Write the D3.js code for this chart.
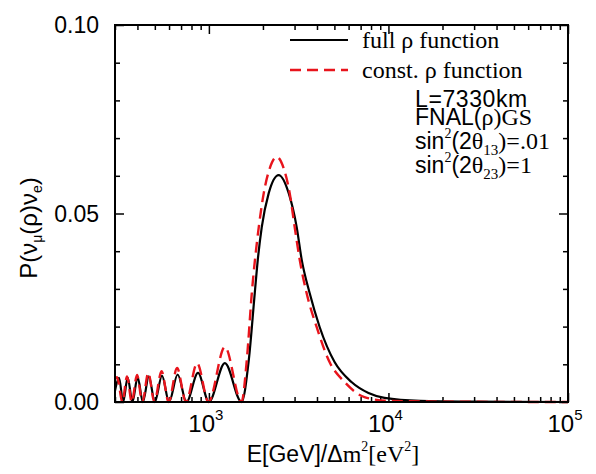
<!DOCTYPE html>
<html><head><meta charset="utf-8">
<script src="https://cdn.jsdelivr.net/npm/d3@7"></script>
<style>body{margin:0;background:#fff}svg{display:block}</style>
</head><body>
<svg id="c" width="596" height="474"></svg>
<script>
// ---- data ----
const fullE = [300,316,333,353,375,401,429,463,500,548,600,670,750,870,1000,1227,1520,1668,1801,1872,1970,2154,2448,2783,3083,3289,3640,4138,5012,6226,7743,9506,15000,30000,100000];
const fullP = [0.003,0.0064,0,0.0065,0,0.0066,0,0.0068,0,0.0070,0,0.0073,0,0.0077,0,0.0103,0,0.0111,0.0289,0.0377,0.0464,0.0554,0.0602,0.0554,0.0464,0.0377,0.0289,0.0199,0.0106,0.0053,0.0024,0.0011,0.0003,0.0001,0];
const constE = [300,308,330,350,372,398,426,460,497,545,597,665,745,860,995,1227,1520,1626,1734,1896,2021,2183,2387,2610,2818,3005,3206,3501,3981,4699,5696,7356,10000,20000,100000];
const constP = [0.006,0.0066,0,0.0068,0,0.0072,0,0.0077,0,0.0082,0,0.0090,0,0.0103,0,0.0146,0,0.0111,0.0289,0.0464,0.0554,0.062,0.065,0.062,0.0554,0.0464,0.0377,0.0289,0.0199,0.0106,0.0053,0.0013,0.0003,0.0001,0];
const xMajorTicks = [1e3,1e4,1e5];
const xMajorExp = ["3","4","5"];
const yMajorTicks = [0,0.05,0.10];
const yTickLabels = ["0.00","0.05","0.10"];
const legendLabels = ["full \u03c1 function","const. \u03c1 function"];

// ---- layout ----
const L=115, R=568, T=25, B=402;
const svg = d3.select("#c");
const x = d3.scaleLog().domain([300,1e5]).range([L,R]);
const y = d3.scaleLinear().domain([0,0.10]).range([B,T]);
const sans = "'Liberation Sans', Arial, sans-serif";
const serif = "'Liberation Serif', 'Times New Roman', serif";

const xMinor = [];
[100,1000,10000].forEach(d=>{for(let k=2;k<=9;k++){const v=k*d; if(v>=300&&v<=1e5) xMinor.push(v);}});
const yMinor = d3.range(0,0.1001,0.01).filter(v=>!yMajorTicks.some(m=>Math.abs(m-v)<1e-9));

function axisStyle(g){g.select(".domain").remove();g.selectAll("text").remove();g.selectAll("line").attr("stroke","#000").attr("stroke-width",1.5);}
svg.append("g").attr("transform",`translate(0,${B})`).call(d3.axisBottom(x).tickValues(xMinor).tickSize(-5)).call(axisStyle);
svg.append("g").attr("transform",`translate(0,${B})`).call(d3.axisBottom(x).tickValues(xMajorTicks).tickSize(-9)).call(axisStyle);
svg.append("g").attr("transform",`translate(0,${T})`).call(d3.axisTop(x).tickValues(xMinor).tickSize(-5)).call(axisStyle);
svg.append("g").attr("transform",`translate(0,${T})`).call(d3.axisTop(x).tickValues(xMajorTicks).tickSize(-9)).call(axisStyle);
svg.append("g").attr("transform",`translate(${L},0)`).call(d3.axisLeft(y).tickValues(yMinor).tickSize(-5)).call(axisStyle);
svg.append("g").attr("transform",`translate(${L},0)`).call(d3.axisLeft(y).tickValues(yMajorTicks).tickSize(-9)).call(axisStyle);
svg.append("g").attr("transform",`translate(${R},0)`).call(d3.axisRight(y).tickValues(yMinor).tickSize(-5)).call(axisStyle);
svg.append("g").attr("transform",`translate(${R},0)`).call(d3.axisRight(y).tickValues(yMajorTicks).tickSize(-9)).call(axisStyle);

// tick labels
yMajorTicks.forEach((v,i)=>{
  svg.append("text").attr("x",L-16).attr("y",y(v)+8).attr("text-anchor","end")
    .attr("font-family",sans).attr("font-size",23).text(yTickLabels[i]);
});
xMajorTicks.forEach((v,i)=>{
  const t = svg.append("text").attr("x",x(v)-3).attr("y",B+30).attr("text-anchor","middle")
    .attr("font-family",sans).attr("font-size",24);
  t.append("tspan").text("10");
  t.append("tspan").attr("dy",-12).attr("font-size",15).text(xMajorExp[i]);
});

// curves
const line = (E,P)=>d3.line().x((d,i)=>x(E[i])).y((d,i)=>y(P[i])).curve(d3.curveMonotoneX)(E);
svg.append("clipPath").attr("id","pc").append("rect").attr("x",L).attr("y",T).attr("width",R-L).attr("height",B-T+4);
svg.append("path").attr("d",line(fullE,fullP)).attr("fill","none").attr("stroke","#000").attr("stroke-width",2.2).attr("clip-path","url(#pc)");
svg.append("path").attr("d",line(constE,constP)).attr("fill","none").attr("stroke","#e8141c").attr("stroke-width",2.4).attr("stroke-dasharray","11,6").attr("clip-path","url(#pc)");

// frame
svg.append("rect").attr("x",L).attr("y",T).attr("width",R-L).attr("height",B-T).attr("fill","none").attr("stroke","#000").attr("stroke-width",2);

// legend
const legY=[40,70];
svg.append("line").attr("x1",290).attr("x2",348).attr("y1",legY[0]).attr("y2",legY[0]).attr("stroke","#000").attr("stroke-width",2.2);
svg.append("line").attr("x1",290).attr("x2",348).attr("y1",legY[1]).attr("y2",legY[1]).attr("stroke","#e8141c").attr("stroke-width",2.4).attr("stroke-dasharray","11,6");
legendLabels.forEach((s,i)=>{
  svg.append("text").attr("x",362).attr("y",legY[i]+8).attr("font-family",serif).attr("font-size",24).text(s);
});

// annotations
svg.append("text").attr("x",415).attr("y",107).attr("font-family",sans).attr("font-size",23).attr("letter-spacing",0.6).text("L=7330km");
const a2 = svg.append("text").attr("x",415).attr("y",125).attr("font-family",sans).attr("font-size",23);
a2.append("tspan").text("FNAL(");
a2.append("tspan").attr("font-family",serif).attr("font-size",24).text("\u03c1)GS");
function sinLine(yy, sub, val){
  const t = svg.append("text").attr("x",415).attr("y",yy).attr("font-family",sans).attr("font-size",23);
  t.append("tspan").text("sin");
  t.append("tspan").attr("dy",-11).attr("font-size",14).attr("font-family",serif).text("2");
  t.append("tspan").attr("dy",11).text("(2");
  t.append("tspan").attr("font-family",serif).attr("font-size",24).text("\u03b8");
  t.append("tspan").attr("dy",6).attr("font-size",15).attr("font-family",serif).text(sub);
  t.append("tspan").attr("dy",-6).attr("font-family",serif).attr("font-size",24).text(")="+val);
}
sinLine(149,"13",".01");
sinLine(173,"23","1");

// axis titles
const xt = svg.append("text").attr("x",333).attr("y",462).attr("text-anchor","middle").attr("font-size",23).attr("font-family",sans);
xt.append("tspan").text("E[GeV]/\u0394");
xt.append("tspan").attr("font-family",serif).attr("font-size",24).text("m");
xt.append("tspan").attr("dy",-11).attr("font-size",14).attr("font-family",serif).text("2");
xt.append("tspan").attr("dy",11).attr("font-family",serif).attr("font-size",24).text("[eV");
xt.append("tspan").attr("dy",-11).attr("font-size",14).attr("font-family",serif).text("2");
xt.append("tspan").attr("dy",11).attr("font-family",serif).attr("font-size",24).text("]");

const yt = svg.append("text").attr("transform","translate(37,228) rotate(-90)").attr("text-anchor","middle").attr("font-size",24).attr("font-family",sans);
yt.append("tspan").text("P(\u03bd");
yt.append("tspan").attr("dy",5).attr("font-size",14).text("\u03bc");
yt.append("tspan").attr("dy",-5).text("(\u03c1)\u03bd");
yt.append("tspan").attr("dy",5).attr("font-size",14).text("e");
yt.append("tspan").attr("dy",-5).text(")");
</script>
</body></html>
